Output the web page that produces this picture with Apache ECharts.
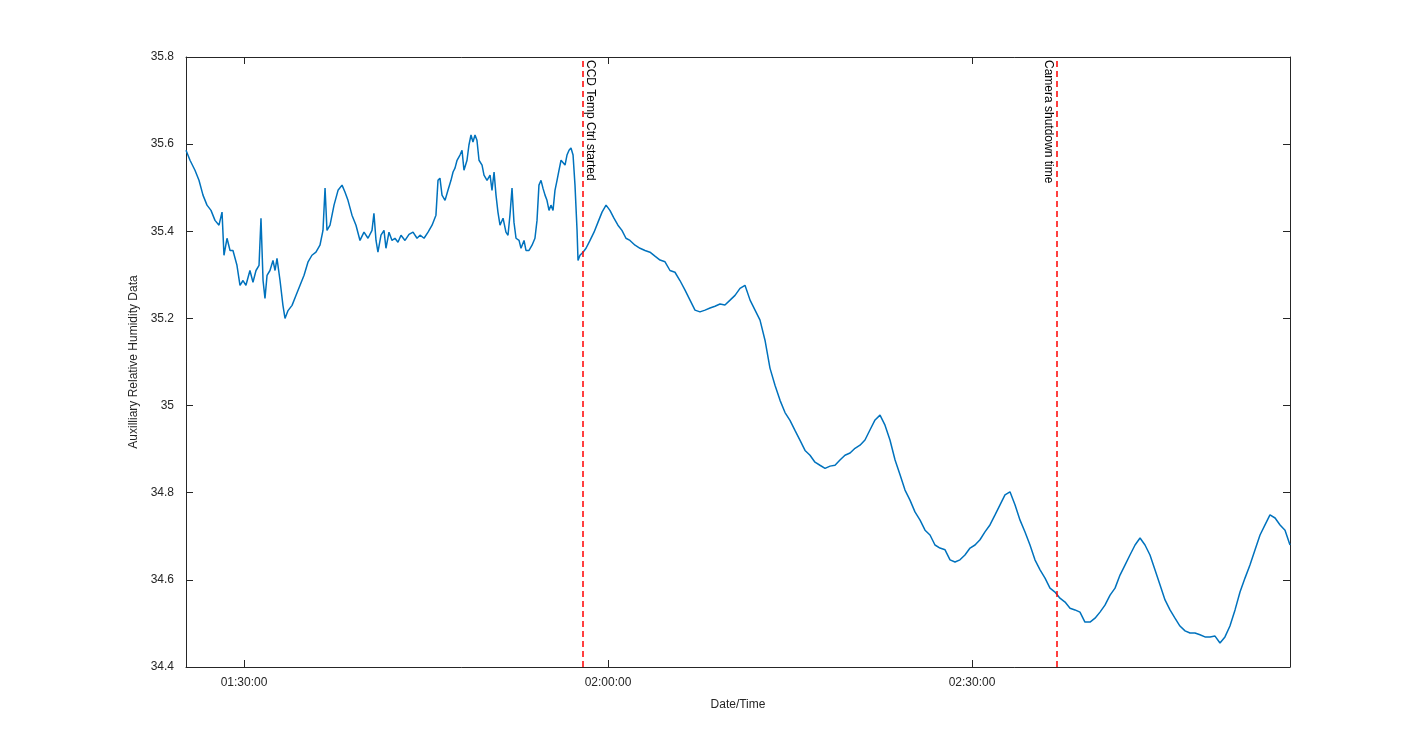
<!DOCTYPE html>
<html><head><meta charset="utf-8">
<script src="https://cdn.jsdelivr.net/npm/echarts@6/dist/echarts.min.js"></script>
<style>html,body{margin:0;padding:0;background:#fff}#c{width:1425px;height:750px}</style>
</head><body><div id="c"></div>
<script>
// minutes relative to 01:30:00
const times = [-4.78,-4.45,-4.04,-3.71,-3.38,-3.05,-2.72,-2.39,-2.06,-1.81,-1.65,-1.40,-1.15,-0.91,-0.58,-0.33,-0.08,0.16,0.49,0.74,0.99,1.24,1.40,1.57,1.73,1.90,2.14,2.39,2.56,2.72,2.97,3.21,3.38,3.63,3.96,4.29,4.62,4.95,5.27,5.60,5.93,6.26,6.51,6.68,6.84,7.09,7.42,7.75,8.08,8.32,8.57,8.90,9.23,9.56,9.89,10.22,10.55,10.71,10.88,11.04,11.29,11.54,11.70,11.95,12.20,12.44,12.69,12.94,13.27,13.60,13.93,14.26,14.51,14.84,15.17,15.50,15.82,15.99,16.15,16.32,16.57,16.81,17.06,17.23,17.39,17.56,17.80,17.97,18.13,18.38,18.54,18.71,18.87,19.04,19.20,19.37,19.62,19.78,20.03,20.28,20.44,20.61,20.77,20.93,21.10,21.35,21.59,21.76,21.92,22.09,22.25,22.42,22.67,22.83,23.08,23.24,23.49,23.74,23.98,24.15,24.31,24.48,24.64,24.81,24.97,25.14,25.30,25.47,25.63,25.80,25.96,26.13,26.29,26.46,26.62,26.79,26.95,27.12,27.28,27.45,27.53,27.69,27.94,28.19,28.52,28.85,29.18,29.51,29.84,30.16,30.49,30.82,31.15,31.48,31.81,32.23,32.64,33.05,33.46,33.87,34.29,34.70,35.11,35.52,35.93,36.35,36.76,37.17,37.58,38.00,38.41,38.82,39.23,39.64,40.06,40.47,40.88,41.29,41.71,42.12,42.53,42.94,43.35,43.77,44.18,44.59,45.00,45.41,45.83,46.24,46.65,47.06,47.47,47.89,48.30,48.71,49.12,49.53,49.95,50.36,50.77,51.18,51.59,52.01,52.42,52.83,53.24,53.66,54.07,54.48,54.89,55.30,55.72,56.13,56.54,56.95,57.36,57.78,58.19,58.60,59.01,59.42,59.84,60.25,60.66,61.07,61.48,61.90,62.31,62.72,63.13,63.55,63.96,64.37,64.78,65.19,65.61,66.02,66.43,66.84,67.25,67.67,68.08,68.49,68.90,69.31,69.73,70.14,70.55,70.96,71.38,71.79,72.20,72.61,73.02,73.44,73.85,74.26,74.67,75.08,75.50,75.91,76.32,76.73,77.14,77.56,77.97,78.38,78.79,79.20,79.62,80.03,80.44,80.85,81.26,81.68,82.09,82.50,82.91,83.33,83.74,84.15,84.56,84.98,85.39,85.80,86.21];
const humidity = [35.586,35.563,35.540,35.517,35.483,35.460,35.448,35.425,35.414,35.444,35.345,35.384,35.356,35.356,35.322,35.276,35.287,35.276,35.310,35.283,35.310,35.322,35.430,35.287,35.246,35.299,35.310,35.333,35.310,35.338,35.287,35.230,35.200,35.218,35.230,35.253,35.276,35.299,35.329,35.345,35.352,35.368,35.402,35.499,35.402,35.414,35.460,35.494,35.506,35.490,35.471,35.437,35.414,35.379,35.398,35.384,35.402,35.441,35.379,35.352,35.391,35.402,35.361,35.398,35.379,35.384,35.375,35.391,35.379,35.393,35.398,35.384,35.391,35.384,35.398,35.414,35.437,35.517,35.522,35.483,35.471,35.494,35.517,35.536,35.545,35.563,35.575,35.586,35.540,35.563,35.598,35.621,35.605,35.621,35.609,35.563,35.552,35.529,35.517,35.529,35.494,35.536,35.483,35.444,35.414,35.430,35.398,35.391,35.437,35.499,35.421,35.384,35.379,35.361,35.379,35.356,35.356,35.368,35.384,35.425,35.506,35.517,35.499,35.483,35.471,35.448,35.460,35.448,35.494,35.517,35.540,35.563,35.559,35.552,35.575,35.586,35.591,35.575,35.506,35.402,35.333,35.345,35.352,35.361,35.379,35.398,35.421,35.444,35.460,35.448,35.430,35.414,35.402,35.384,35.379,35.368,35.361,35.356,35.352,35.343,35.334,35.330,35.310,35.306,35.287,35.265,35.242,35.219,35.215,35.219,35.224,35.228,35.233,35.231,35.242,35.253,35.269,35.276,35.242,35.219,35.196,35.150,35.086,35.046,35.012,34.984,34.966,34.943,34.920,34.897,34.886,34.870,34.863,34.856,34.861,34.863,34.875,34.886,34.891,34.902,34.909,34.921,34.944,34.967,34.978,34.955,34.921,34.875,34.841,34.806,34.783,34.756,34.737,34.714,34.703,34.680,34.673,34.669,34.646,34.641,34.646,34.657,34.673,34.680,34.692,34.710,34.726,34.749,34.772,34.795,34.802,34.772,34.737,34.710,34.680,34.646,34.623,34.604,34.581,34.572,34.558,34.549,34.535,34.531,34.526,34.503,34.503,34.512,34.526,34.542,34.565,34.581,34.611,34.634,34.657,34.680,34.696,34.680,34.657,34.623,34.588,34.554,34.531,34.512,34.494,34.483,34.478,34.478,34.474,34.469,34.469,34.471,34.455,34.469,34.494,34.531,34.572,34.604,34.634,34.669,34.703,34.726,34.749,34.742,34.726,34.714,34.680];
const xTicks = [0, 30, 60];
const xTickLabels = ['01:30:00', '02:00:00', '02:30:00'];
const events = [27.94, 67.0];
const eventLabels = ['CCD Temp Ctrl started', 'Camera shutdown time'];
const xMin = -4.78, xMax = 86.21;

const font = 'Liberation Sans, Arial, sans-serif';
const axisLine = {show: true, onZero: false, lineStyle: {color: '#262626', width: 1}};
const tick = {show: true, inside: true, length: 7, lineStyle: {color: '#262626'}};
const chart = echarts.init(document.getElementById('c'));
chart.setOption({
  animation: false,
  grid: {left: 186, right: 135, top: 57, bottom: 83},
  xAxis: [
    {type: 'value', min: xMin, max: xMax, axisLine, splitLine: {show: false},
     axisTick: Object.assign({}, tick, {customValues: xTicks}),
     axisLabel: {customValues: xTicks, color: '#262626', fontSize: 12, fontFamily: font, margin: 10,
       formatter: v => xTickLabels[xTicks.indexOf(Math.round(v))] || ''},
     name: 'Date/Time', nameLocation: 'middle', nameGap: 32,
     nameTextStyle: {color: '#262626', fontSize: 12, fontFamily: font}},
    {type: 'value', position: 'top', min: xMin, max: xMax, axisLine, splitLine: {show: false},
     axisTick: Object.assign({}, tick, {customValues: xTicks}),
     axisLabel: {show: false}}
  ],
  yAxis: [
    {type: 'value', position: 'left', min: 34.4, max: 35.8, interval: 0.2, axisLine, axisTick: tick, splitLine: {show: false},
     axisLabel: {color: '#262626', fontSize: 12, fontFamily: font, margin: 12, formatter: v => String(+v.toFixed(1))},
     name: 'Auxilliary Relative Humidity Data', nameLocation: 'middle', nameGap: 45,
     nameTextStyle: {color: '#262626', fontSize: 12, fontFamily: font}},
    {type: 'value', position: 'right', min: 34.4, max: 35.8, interval: 0.2, axisLine, axisTick: tick,
     splitLine: {show: false}, axisLabel: {show: false}}
  ],
  series: [{
    type: 'line', showSymbol: false, symbol: 'none',
    data: times.map((t, i) => [t, humidity[i]]),
    lineStyle: {color: '#0072BD', width: 1.5},
    markLine: {symbol: 'none', silent: true, label: {show: false},
      lineStyle: {color: '#ff0000', type: [6, 4], width: 1.5},
      data: events.map(e => ({xAxis: e}))}
  }]
});
const gs = events.map((e, i) => {
  const p = chart.convertToPixel({xAxisIndex: 0, yAxisIndex: 0}, [e, 35.8]);
  const right = i === 0;
  return {type: 'text', x: p[0] + (right ? 1 : -15), y: p[1] + 3, rotation: -Math.PI / 2,
    style: {text: eventLabels[i], fontSize: 12, fontFamily: font, fill: '#000',
      align: 'left', verticalAlign: 'bottom'}};
});
chart.setOption({graphic: gs});
</script></body></html>
